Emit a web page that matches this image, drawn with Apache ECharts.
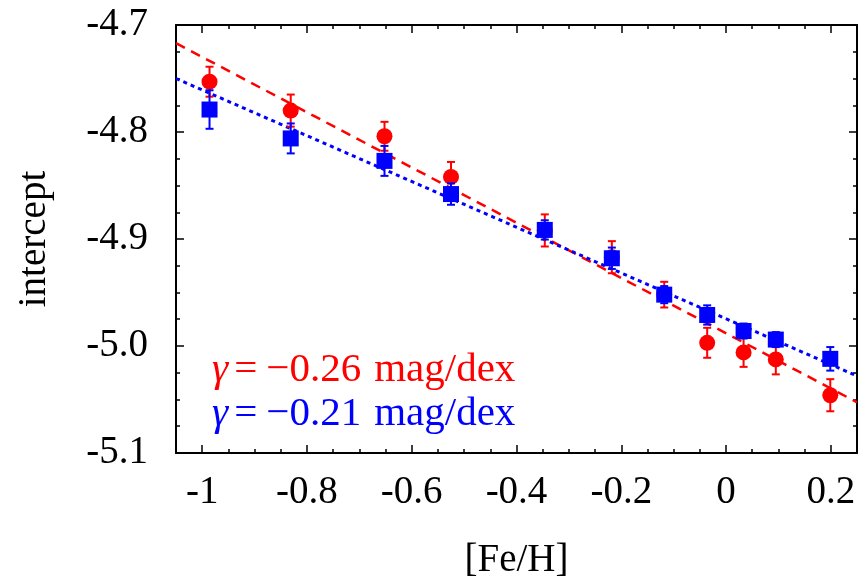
<!DOCTYPE html>
<html>
<head>
<meta charset="utf-8">
<script src="https://cdn.jsdelivr.net/npm/echarts@6/dist/echarts.min.js"></script>
<style>
  html, body { margin: 0; padding: 0; background: #fff; }
  #chart { width: 864px; height: 585px; }
</style>
</head>
<body>
<div id="chart"></div>
<script>
// Metallicity of each bin
const feh = [-0.986, -0.831, -0.652, -0.525, -0.346, -0.218, -0.118, -0.036, 0.0335, 0.095, 0.199];

// Intercepts and their uncertainties (red circles)
const redY   = [-4.753, -4.780, -4.804, -4.842, -4.892, -4.917, -4.952, -4.997, -5.006, -5.0125, -5.046];
const redErr = [0.014, 0.015, 0.0135, 0.014, 0.015, 0.015, 0.012, 0.014, 0.0135, 0.014, 0.015];

// Intercepts and their uncertainties (blue squares)
const blueY   = [-4.779, -4.806, -4.827, -4.858, -4.8915, -4.918, -4.952, -4.971, -4.986, -4.994, -5.012];
const blueErr = [0.018, 0.014, 0.014, 0.010, 0.009, 0.010, 0.008, 0.009, 0.007, 0.007, 0.011];

// Linear fits, given by their end points across the plotted range
const redFit  = [[-1.05, -4.717], [0.25, -5.0526]];
const blueFit = [[-1.05, -4.750], [0.25, -5.028]];

// Fit slopes shown in the annotations
const slopeValues = ['\u22120.26', '\u22120.21'];
const slopeUnit = 'mag/dex';

// Tick labels
const xTicks = [-1, -0.8, -0.6, -0.4, -0.2, 0, 0.2];
const yTicks = [-5.1, -5.0, -4.9, -4.8, -4.7];

const RED = '#ff0000';
const BLUE = '#0000ff';
const FONT = '"Liberation Serif", "DejaVu Serif", serif';
const FS = 39;
const NOTE_FS = 41;

const chart = echarts.init(document.getElementById('chart'), null, { renderer: 'canvas' });

function zip(xs, ys, es) {
  return xs.map((x, i) => es ? [x, ys[i], es[i]] : [x, ys[i]]);
}

// Vertical error bar with short caps at both ends
function errorBar(color) {
  return function (params, api) {
    const x = api.value(0), y = api.value(1), e = api.value(2);
    const hi = api.coord([x, y + e]);
    const lo = api.coord([x, y - e]);
    const cap = 4;
    const style = { stroke: color, lineWidth: 2 };
    return {
      type: 'group',
      children: [
        { type: 'line', shape: { x1: hi[0], y1: hi[1], x2: lo[0], y2: lo[1] }, style },
        { type: 'line', shape: { x1: hi[0] - cap, y1: hi[1], x2: hi[0] + cap, y2: hi[1] }, style },
        { type: 'line', shape: { x1: lo[0] - cap, y1: lo[1], x2: lo[0] + cap, y2: lo[1] }, style }
      ]
    };
  };
}

const axisLineStyle = { show: true, onZero: false, lineStyle: { color: '#000', width: 2 } };
const noAxisLine = { show: false, onZero: false };
const tickStyle = { color: '#000', width: 1.5 };

const xBase = { type: 'value', min: -1.05, max: 0.25, splitLine: { show: false } };

// Slope annotation: italic gamma, equals sign, value and unit
function note(i, color, top) {
  const base = { fontSize: NOTE_FS, fontFamily: FONT, fill: color };
  return {
    type: 'text', left: 212, top: top, z: 10,
    style: Object.assign({}, base, {
      text: '{g|\u03b3}{e|=}{n|' + slopeValues[i] + '}{u|' + slopeUnit + '}',
      rich: {
        g: Object.assign({}, base, { fontStyle: 'italic' }),
        e: Object.assign({}, base, { padding: [0, 9, 0, 6] }),
        n: Object.assign({}, base),
        u: Object.assign({}, base, { padding: [0, 0, 0, 13] })
      }
    })
  };
}

const option = {
  animation: false,
  backgroundColor: '#fff',
  grid: { left: 176, right: 7, top: 25, bottom: 127, containLabel: false },
  xAxis: [
    Object.assign({}, xBase, {
      position: 'bottom',
      interval: 0.05,
      axisLine: axisLineStyle,
      axisTick: { show: true, inside: true, length: 4, lineStyle: tickStyle },
      axisLabel: {
        show: true,
        customValues: xTicks,
        margin: 20,
        color: '#000',
        fontSize: FS,
        fontFamily: FONT,
        formatter: v => String(+(+v).toFixed(2))
      },
      name: '[Fe/H]',
      nameLocation: 'middle',
      nameGap: 88,
      nameTextStyle: { color: '#000', fontSize: FS, fontFamily: FONT }
    }),
    Object.assign({}, xBase, {
      position: 'bottom',
      axisLine: noAxisLine,
      axisTick: { show: true, inside: true, length: 8, customValues: xTicks, lineStyle: tickStyle },
      axisLabel: { show: false }
    }),
    Object.assign({}, xBase, {
      position: 'top',
      interval: 0.05,
      axisLine: axisLineStyle,
      axisTick: { show: true, inside: true, length: 4, lineStyle: tickStyle },
      axisLabel: { show: false }
    }),
    Object.assign({}, xBase, {
      position: 'top',
      axisLine: noAxisLine,
      axisTick: { show: true, inside: true, length: 8, customValues: xTicks, lineStyle: tickStyle },
      axisLabel: { show: false }
    })
  ],
  yAxis: [
    {
      type: 'value', position: 'left', min: yTicks[0], max: yTicks[yTicks.length - 1], interval: 0.1,
      splitLine: { show: false },
      axisLine: axisLineStyle,
      axisTick: { show: true, inside: true, length: 8, lineStyle: tickStyle },
      minorTick: { show: true, splitNumber: 4, length: 4, lineStyle: tickStyle },
      minorSplitLine: { show: false },
      axisLabel: {
        color: '#000', fontSize: FS, fontFamily: FONT, margin: 28,
        formatter: v => (+v).toFixed(1)
      },
      name: 'intercept',
      nameLocation: 'middle',
      nameRotate: 90,
      nameGap: 122,
      nameTextStyle: { color: '#000', fontSize: FS, fontFamily: FONT }
    },
    {
      type: 'value', position: 'right', min: yTicks[0], max: yTicks[yTicks.length - 1], interval: 0.1,
      splitLine: { show: false },
      axisLine: axisLineStyle,
      axisTick: { show: true, inside: true, length: 8, lineStyle: tickStyle },
      minorTick: { show: true, splitNumber: 4, length: 4, lineStyle: tickStyle },
      minorSplitLine: { show: false },
      axisLabel: { show: false }
    }
  ],
  series: [
    {
      type: 'line', data: redFit, showSymbol: false, silent: true, z: 2,
      lineStyle: { color: RED, width: 2.5, type: [10, 7] }
    },
    {
      type: 'line', data: blueFit, showSymbol: false, silent: true, z: 2,
      lineStyle: { color: BLUE, width: 3, type: [4, 4] }
    },
    {
      type: 'custom', data: zip(feh, redY, redErr), renderItem: errorBar(RED), z: 3
    },
    {
      type: 'scatter', data: zip(feh, redY), symbol: 'circle', symbolSize: 16, z: 4,
      itemStyle: { color: RED, opacity: 1 }
    },
    {
      type: 'custom', data: zip(feh, blueY, blueErr), renderItem: errorBar(BLUE), z: 5
    },
    {
      type: 'scatter', data: zip(feh, blueY), symbol: 'rect', symbolSize: 16, z: 6,
      itemStyle: { color: BLUE, opacity: 1 }
    }
  ],
  graphic: [
    note(0, RED, 350),
    note(1, BLUE, 394)
  ]
};

chart.setOption(option);
</script>
</body>
</html>
